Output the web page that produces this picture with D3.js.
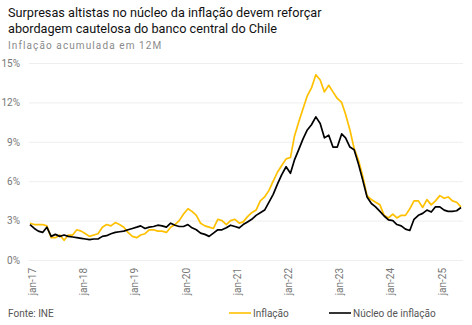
<!DOCTYPE html>
<html>
<head>
<meta charset="utf-8">
<script src="https://cdn.jsdelivr.net/npm/d3@7"></script>
<style>
  body { margin: 0; background: #fff; }
  svg text { font-family: Roboto, "Noto Sans", sans-serif; }
</style>
</head>
<body>
<div id="wrapper"></div>
<script>
// Inflação acumulada em 12M, mensal de jan-17 a jun-25
const startMonth = new Date(2017, 0, 1)

const inflacao = [
  2.8, 2.7, 2.7, 2.7, 2.6, 1.7, 1.7, 1.9, 1.5, 1.9, 1.9, 2.3,
  2.2, 2.0, 1.8, 1.9, 2.0, 2.5, 2.7, 2.6, 2.85, 2.7, 2.5, 2.1,
  1.8, 1.7, 1.9, 2.0, 2.3, 2.3, 2.2, 2.2, 2.1, 2.5, 2.7, 3.0,
  3.5, 3.9, 3.7, 3.4, 2.8, 2.6, 2.5, 2.4, 3.1, 3.0, 2.7, 3.0,
  3.1, 2.8, 2.9, 3.3, 3.6, 3.8, 4.5, 4.8, 5.3, 6.0, 6.7, 7.2,
  7.7, 7.8, 9.4, 10.5, 11.5, 12.5, 13.1, 14.1, 13.7, 12.8, 13.3, 12.8,
  12.3, 12.0, 11.1, 9.9, 8.5, 7.6, 6.4, 4.9, 4.6, 4.4, 4.2, 3.4,
  3.2, 3.5, 3.2, 3.4, 3.4, 3.9, 4.5, 4.5, 4.0, 4.6, 4.2, 4.5,
  4.9, 4.7, 4.8, 4.5, 4.4, 4.05,
]

const nucleo = [
  2.7, 2.4, 2.2, 2.1, 2.5, 1.8, 1.95, 1.8, 1.9, 1.8, 1.75, 1.7,
  1.65, 1.6, 1.55, 1.6, 1.6, 1.8, 1.85, 2.0, 2.1, 2.15, 2.2, 2.3,
  2.4, 2.5, 2.6, 2.4, 2.5, 2.55, 2.65, 2.6, 2.5, 2.8, 2.65, 2.55,
  2.55, 2.7, 2.45, 2.3, 2.05, 1.95, 1.8, 2.05, 2.3, 2.3, 2.45, 2.65,
  2.55, 2.45, 2.7, 2.9, 3.1, 3.4, 3.6, 3.8, 4.4, 5.0, 5.8, 6.5,
  7.1, 6.6, 7.6, 8.4, 9.2, 9.9, 10.3, 10.9, 10.4, 9.3, 9.5, 8.6,
  8.6, 9.6, 9.3, 8.6, 8.4, 7.3, 6.1, 4.8, 4.3, 4.05, 3.7, 3.35,
  3.05, 3.0, 2.7, 2.6, 2.35, 2.25, 3.1, 3.4, 3.55, 3.8, 3.65, 4.05,
  4.05, 3.8, 3.7, 3.7, 3.75, 4.0,
]

const yTicks = [0, 3, 6, 9, 12, 15]
const xTickLabels = ["jan-17", "jan-18", "jan-19", "jan-20", "jan-21", "jan-22", "jan-23", "jan-24", "jan-25"]

const seriesNames = ["Inflação", "Núcleo de inflação"]
const seriesColors = ["#FFC000", "#000000"]

function drawChart() {
  const dimensions = {
    width: 472,
    height: 325,
    margin: { top: 63, right: 9, bottom: 65, left: 30 },
  }
  dimensions.boundedWidth = dimensions.width - dimensions.margin.left - dimensions.margin.right
  dimensions.boundedHeight = dimensions.height - dimensions.margin.top - dimensions.margin.bottom

  const dateAt = i => d3.timeMonth.offset(startMonth, i)
  const series = [inflacao, nucleo].map((values, k) => ({
    name: seriesNames[k],
    color: seriesColors[k],
    values: values.map((v, i) => ({ date: dateAt(i), value: v })),
  }))

  const wrapper = d3.select("#wrapper")
    .append("svg")
    .attr("width", dimensions.width)
    .attr("height", dimensions.height)

  // titulo e subtitulo
  wrapper.append("text")
    .attr("x", 8).attr("y", 16.5)
    .attr("fill", "#111")
    .style("font-size", "12.7px")
    .text("Surpresas altistas no núcleo da inflação devem reforçar")
  wrapper.append("text")
    .attr("x", 8).attr("y", 32.5)
    .attr("fill", "#111")
    .style("font-size", "12.7px")
    .text("abordagem cautelosa do banco central do Chile")
  wrapper.append("text")
    .attr("x", 8).attr("y", 49)
    .attr("fill", "#8a8a8a")
    .style("font-size", "10px")
    .style("letter-spacing", "1.1px")
    .text("Inflação acumulada em 12M")

  const bounds = wrapper.append("g")
    .attr("transform", `translate(${dimensions.margin.left}, ${dimensions.margin.top})`)

  const xScale = d3.scaleTime()
    .domain([startMonth, dateAt(inflacao.length - 1)])
    .range([0, dimensions.boundedWidth - 2])
  const yScale = d3.scaleLinear()
    .domain([0, 15])
    .range([dimensions.boundedHeight, 0])

  // grade horizontal + rotulos do eixo y
  const yAxisGenerator = d3.axisLeft(yScale)
    .tickValues(yTicks)
    .tickSize(-dimensions.boundedWidth)
    .tickFormat(d => d + "%")
  const yAxis = bounds.append("g")
    .call(yAxisGenerator)
  yAxis.select(".domain").remove()
  yAxis.selectAll(".tick line")
    .attr("stroke", "#eeeeee")
    .attr("x1", -1)
  yAxis.selectAll(".tick text")
    .attr("x", -10)
    .attr("fill", "#777")
    .style("font-size", "10px")
    .style("font-family", "Roboto, sans-serif")

  // eixo x com rotulos verticais
  const xTickDates = xTickLabels.map((_, i) => dateAt(i * 12))
  const xAxisGenerator = d3.axisBottom(xScale)
    .tickValues(xTickDates)
    .tickSize(0)
    .tickFormat((d, i) => xTickLabels[i])
  const xAxis = bounds.append("g")
    .attr("transform", `translate(0, ${dimensions.boundedHeight})`)
    .call(xAxisGenerator)
  xAxis.select(".domain").remove()
  xAxis.selectAll(".tick text")
    .attr("fill", "#777")
    .style("font-size", "10px")
    .style("font-family", "Roboto, sans-serif")
    .attr("text-anchor", "end")
    .attr("transform", "translate(2, 8) rotate(-90)")
    .attr("x", 0)
    .attr("y", 0)
    .attr("dy", "0.35em")

  const lineGenerator = d3.line()
    .x(d => xScale(d.date))
    .y(d => yScale(d.value))

  bounds.selectAll(".serie")
    .data(series)
    .join("path")
    .attr("class", "serie")
    .attr("d", d => lineGenerator(d.values))
    .attr("fill", "none")
    .attr("stroke", d => d.color)
    .attr("stroke-width", 1.7)
    .attr("stroke-linejoin", "round")

  // fonte e legenda
  wrapper.append("text")
    .attr("x", 8).attr("y", 316.5)
    .attr("fill", "#555")
    .style("font-size", "10px")
    .text("Fonte: INE")

  const legendX = [229, 329]
  const legend = wrapper.selectAll(".legenda")
    .data(series)
    .join("g")
    .attr("class", "legenda")
    .attr("transform", (d, i) => `translate(${legendX[i]}, 313)`)
  legend.append("line")
    .attr("x1", 0).attr("x2", 22)
    .attr("stroke", d => d.color)
    .attr("stroke-width", 1.6)
  legend.append("text")
    .attr("x", 24).attr("y", 3.5)
    .attr("fill", "#555")
    .style("font-size", "10px")
    .text(d => d.name)
}

drawChart()
</script>
</body>
</html>
